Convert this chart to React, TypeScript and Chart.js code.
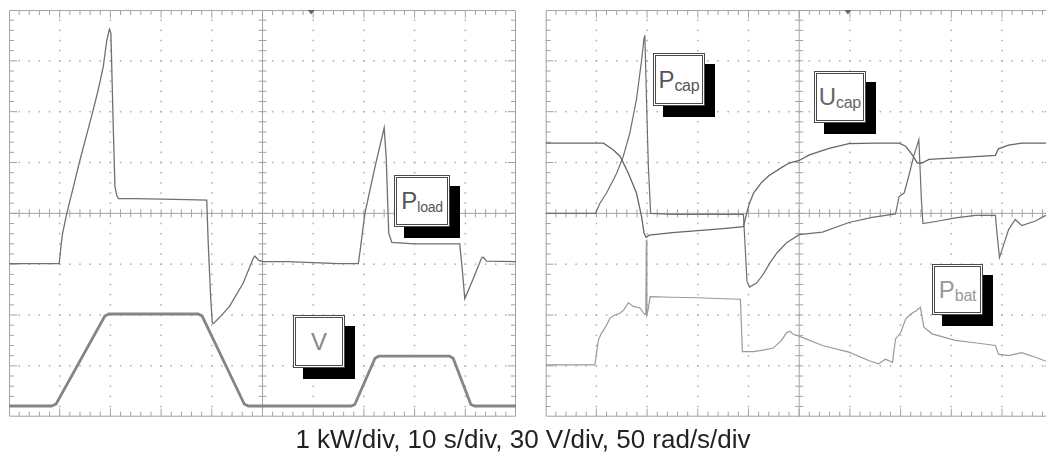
import React, { useEffect, useRef } from "react";
import { Chart, registerables } from "chart.js";
Chart.register(...registerables);

// ---- Left panel (time in s, amplitude in screen divisions) ----
const ploadT = [0, 9.9, 10.3, 10.6, 11.4, 12.7, 14.0, 15.3, 16.6, 17.6, 18.6, 19.3, 19.8, 20.1, 20.6, 20.9, 21.3, 21.6, 25, 30, 35, 39.0, 39.3, 39.8, 40.1, 40.3, 41.5, 43.5, 46.2, 48.2, 48.5, 49.2, 50, 55, 60, 65, 68.9, 69.3, 70.2, 72.2, 74.0, 74.4, 74.9, 75.5, 80, 85, 88.9, 89.4, 89.9, 91.5, 93.2, 93.5, 94.2, 100];
const ploadY = [-0.99, -0.99, -0.6, -0.38, 0, 0.52, 1.05, 1.54, 2.03, 2.43, 2.89, 3.41, 3.62, 3.54, 1.57, 0.52, 0.34, 0.29, 0.29, 0.28, 0.27, 0.26, -0.6, -1.7, -2.15, -2.17, -2.05, -1.83, -1.37, -0.88, -0.84, -0.92, -0.95, -0.95, -0.97, -0.99, -0.99, -0.7, 0, 0.92, 1.68, 1.1, -0.39, -0.57, -0.6, -0.6, -0.6, -1.1, -1.68, -1.3, -0.88, -0.86, -0.94, -0.95];

const vT = [0, 8.4, 9.3, 18.9, 19.7, 37.3, 38.1, 46.4, 47.2, 67.5, 68.2, 72.2, 72.9, 86.9, 87.6, 91.1, 91.8, 100];
const vY = [-3.79, -3.79, -3.75, -2.02, -1.98, -1.98, -2.02, -3.75, -3.79, -3.79, -3.76, -2.85, -2.81, -2.81, -2.85, -3.76, -3.79, -3.79];

// ---- Right panel ----
const pcapT = [0, 9.8, 10.7, 12, 14, 15.3, 16.6, 17.9, 18.9, 19.4, 19.55, 19.9, 20.25, 20.7, 25, 30, 35, 39.0, 39.7, 40.2, 41.6, 42.9, 44.2, 45.6, 47.5, 50, 54.6, 59.8, 64.4, 69.0, 69.7, 70.7, 71.6, 72.6, 73.6, 74.1, 74.4, 77.5, 80.8, 84.8, 88.7, 89.0, 89.5, 91.3, 92.6, 93.9, 96.6, 98.4, 100];
const pcapY = [0, 0, 0.2, 0.4, 0.79, 1.12, 1.58, 2.24, 3.0, 3.45, 3.51, 2.17, 0.92, 0, -0.02, -0.02, -0.02, -0.02, -1.34, -1.45, -1.37, -1.2, -0.98, -0.78, -0.58, -0.42, -0.37, -0.18, -0.08, -0.01, 0.33, 0.4, 0.73, 1.13, 1.45, 0.27, -0.2, -0.15, -0.09, -0.04, -0.04, -0.38, -0.87, -0.32, -0.12, -0.24, -0.15, -0.05, -0.04];

const ucapT = [0, 11.4, 13.3, 14.7, 16.3, 17.9, 18.9, 19.4, 19.8, 20.4, 25, 30, 35, 39.0, 39.5, 40.2, 41.0, 42.5, 44.0, 46.5, 48.0, 50, 52, 55.9, 59.8, 65, 69.7, 71.0, 72.3, 73.3, 74.2, 75.6, 80.8, 88.7, 89.3, 91.3, 93.9, 100];
const ucapY = [1.38, 1.38, 1.25, 1.12, 0.79, 0.4, -0.06, -0.39, -0.47, -0.43, -0.38, -0.34, -0.3, -0.26, -0.05, 0.2, 0.4, 0.6, 0.74, 0.9, 0.99, 1.04, 1.15, 1.28, 1.37, 1.38, 1.38, 1.32, 1.15, 0.99, 0.99, 1.06, 1.09, 1.14, 1.27, 1.34, 1.38, 1.38];

const pbatT = [0, 9.7, 10.1, 10.4, 11.0, 12.0, 12.7, 13.6, 14.7, 15.4, 16.3, 17.3, 18.6, 19.5, 19.75, 19.85, 19.95, 20.2, 20.6, 25, 30, 35, 38.4, 38.8, 40.9, 42.9, 44.9, 46.5, 47.5, 48.2, 48.8, 50.1, 54.6, 59.8, 63.8, 65.7, 67.0, 68.4, 69.0, 70.0, 71.0, 72.0, 73.0, 73.9, 74.6, 76.2, 80.8, 85, 88.7, 89.3, 91.3, 93.9, 96.6, 98.4, 100];
const pbatY = [-2.98, -2.98, -2.7, -2.49, -2.36, -2.2, -2.06, -2.0, -1.96, -1.9, -1.76, -1.83, -1.86, -1.99, -1.99, -0.52, -1.99, -1.9, -1.64, -1.65, -1.66, -1.68, -1.69, -2.72, -2.72, -2.69, -2.65, -2.5, -2.35, -2.32, -2.38, -2.42, -2.6, -2.73, -2.9, -2.96, -2.87, -2.93, -2.47, -2.35, -2.08, -1.98, -1.92, -1.85, -2.24, -2.37, -2.5, -2.55, -2.6, -2.77, -2.8, -2.74, -2.83, -2.9, -2.91];

const X_MIN = 0;
const X_MAX = 100; // 10 s/div x 10 div
const Y_MIN = -4;
const Y_MAX = 4;
const TRIGGER_T = 59.6;
const CAPTION = "1 kW/div, 10 s/div, 30 V/div, 50 rad/s/div";

const FONT = "'Liberation Sans', Arial, Helvetica, sans-serif";

const pair = (t: number[], y: number[]) => t.map((x, i) => ({ x, y: y[i] }));

const gridPlugin = {
  id: "scopeGrid",
  beforeDatasetsDraw(chart: any) {
    const { ctx, chartArea: a, scales } = chart;
    const sx = scales.x;
    const sy = scales.y;
    const X = (v: number) => sx.getPixelForValue(v);
    const Y = (v: number) => sy.getPixelForValue(v);
    ctx.save();
    // dotted division lines
    ctx.fillStyle = "#ababab";
    for (let i = 1; i < 10; i++) {
      if (i === 5) continue;
      const xx = X(i * 10);
      for (let k = 1; k < 40; k++) ctx.fillRect(xx - 0.75, Y(Y_MIN + k * 0.2) - 0.75, 1.5, 1.5);
    }
    for (let j = -3; j <= 3; j++) {
      if (j === 0) continue;
      const yy = Y(j);
      for (let k = 1; k < 50; k++) ctx.fillRect(X(k * 2) - 0.75, yy - 0.75, 1.5, 1.5);
    }
    ctx.strokeStyle = "#a3a3a3";
    ctx.lineWidth = 1;
    ctx.beginPath();
    const cx = X(50);
    const cy = Y(0);
    ctx.moveTo(cx, a.top);
    ctx.lineTo(cx, a.bottom);
    ctx.moveTo(a.left, cy);
    ctx.lineTo(a.right, cy);
    for (let k = 1; k < 50; k++) {
      const xx = X(k * 2);
      ctx.moveTo(xx, cy - 4);
      ctx.lineTo(xx, cy + 4);
    }
    for (let k = 1; k < 40; k++) {
      const yy = Y(Y_MIN + k * 0.2);
      ctx.moveTo(cx - 4, yy);
      ctx.lineTo(cx + 4, yy);
    }
    ctx.rect(a.left + 0.5, a.top + 0.5, a.width - 1, a.height - 1);
    for (let k = 1; k < 50; k++) {
      const xx = X(k * 2);
      const L = k % 5 === 0 ? 8 : 5;
      ctx.moveTo(xx, a.top);
      ctx.lineTo(xx, a.top + L);
      ctx.moveTo(xx, a.bottom);
      ctx.lineTo(xx, a.bottom - L);
    }
    for (let k = 1; k < 40; k++) {
      const yy = Y(Y_MIN + k * 0.2);
      const L = k % 5 === 0 ? 8 : 5;
      ctx.moveTo(a.left, yy);
      ctx.lineTo(a.left + L, yy);
      ctx.moveTo(a.right, yy);
      ctx.lineTo(a.right - L, yy);
    }
    ctx.stroke();
    // trigger marker
    const tx = X(TRIGGER_T);
    ctx.fillStyle = "#666";
    ctx.beginPath();
    ctx.moveTo(tx - 3.5, a.top);
    ctx.lineTo(tx + 3.5, a.top);
    ctx.lineTo(tx, a.top + 4.5);
    ctx.closePath();
    ctx.fill();
    ctx.restore();
  },
};

type Trace = { t: number[]; y: number[]; color: string; width: number };

function ScopePanel({ traces, left, padding }: { traces: Trace[]; left: number; padding: any }) {
  const ref = useRef<HTMLCanvasElement>(null);
  useEffect(() => {
    const chart = new Chart(ref.current as HTMLCanvasElement, {
      type: "line",
      data: {
        datasets: traces.map((tr) => ({
          data: pair(tr.t, tr.y),
          borderColor: tr.color,
          borderWidth: tr.width,
          pointRadius: 0,
          tension: 0,
          fill: false,
        })),
      },
      options: {
        animation: false,
        responsive: true,
        maintainAspectRatio: false,
        events: [],
        layout: { padding },
        plugins: { legend: { display: false }, tooltip: { enabled: false } },
        scales: {
          x: { type: "linear", min: X_MIN, max: X_MAX, display: false },
          y: { type: "linear", min: Y_MIN, max: Y_MAX, display: false },
        },
      },
      plugins: [gridPlugin],
    } as any);
    return () => chart.destroy();
  }, []);
  return (
    <div style={{ position: "absolute", left, top: 0, width: 530, height: 425 }}>
      <canvas ref={ref} />
    </div>
  );
}

function Tag({ x, y, w, h, main, sub, color, subSize }: any) {
  return (
    <>
      <div style={{ position: "absolute", left: x + 10, top: y + 11, width: w, height: h, background: "#000" }} />
      <div
        style={{
          position: "absolute",
          left: x,
          top: y,
          width: w,
          height: h,
          boxSizing: "border-box",
          background: "#fff",
          border: "3px double #4a4a4a",
          display: "flex",
          alignItems: "center",
          justifyContent: "center",
          fontFamily: FONT,
          color,
          whiteSpace: "nowrap",
        }}
      >
        <span style={{ lineHeight: 1 }}>
          <span style={{ fontSize: 24 }}>{main}</span>
          {sub ? (
            <span style={{ fontSize: subSize, position: "relative", top: 3, letterSpacing: -0.3 }}>{sub}</span>
          ) : null}
        </span>
      </div>
    </>
  );
}

export default function App() {
  const leftTraces: Trace[] = [
    { t: ploadT, y: ploadY, color: "#707070", width: 1.3 },
    { t: vT, y: vY, color: "#858585", width: 2.8 },
  ];
  const rightTraces: Trace[] = [
    { t: pcapT, y: pcapY, color: "#6e6e6e", width: 1.2 },
    { t: ucapT, y: ucapY, color: "#666666", width: 1.3 },
    { t: pbatT, y: pbatY, color: "#9a9a9a", width: 1.2 },
  ];
  return (
    <div style={{ position: "fixed", left: 0, top: 0, width: 1046, height: 455, overflow: "hidden", background: "#fff" }}>
      <ScopePanel traces={leftTraces} left={0} padding={{ left: 9, top: 10, right: 14, bottom: 8.3 }} />
      <ScopePanel traces={rightTraces} left={536} padding={{ left: 9.7, top: 10, right: 13.3, bottom: 8.3 }} />
      <Tag x={394} y={175} w={56} h={52} main="P" sub="load" subSize={14} color="#555" />
      <Tag x={293} y={315} w={52} h={53} main="V" color="#888" />
      <Tag x={652.7} y={53.3} w={52.3} h={52.7} main="P" sub="cap" subSize={16} color="#555" />
      <Tag x={814} y={71} w={51.7} h={52.3} main="U" sub="cap" subSize={16} color="#666" />
      <Tag x={931.7} y={264} w={51.6} h={51} main="P" sub="bat" subSize={16} color="#999" />
      <div
        style={{
          position: "absolute",
          left: 0,
          top: 425,
          width: 1046,
          textAlign: "center",
          fontFamily: FONT,
          fontSize: 26,
          lineHeight: "28px",
          color: "#222",
          whiteSpace: "nowrap",
        }}
      >
        {CAPTION}
      </div>
    </div>
  );
}
